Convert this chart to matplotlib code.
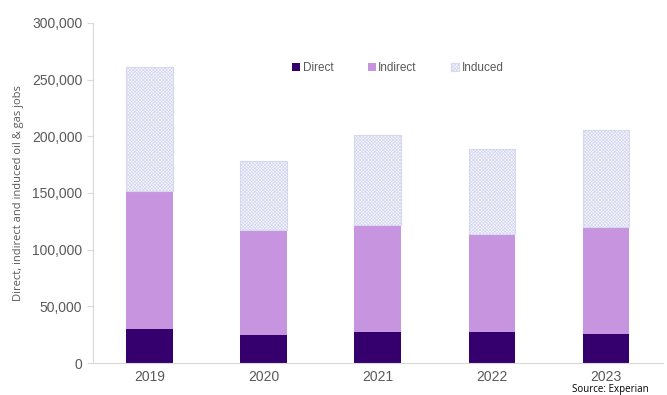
import matplotlib
matplotlib.use("Agg")
import matplotlib.pyplot as plt
from matplotlib.ticker import FuncFormatter

years = ["2019", "2020", "2021", "2022", "2023"]
direct = [30000, 25000, 27500, 27500, 25500]
indirect = [122000, 92000, 94500, 86000, 94500]
induced = [109000, 61500, 79000, 75500, 85500]

plt.rcParams["font.family"] = ["Liberation Sans", "DejaVu Sans"]
plt.rcParams["hatch.color"] = "#d6d9f0"
plt.rcParams["hatch.linewidth"] = 0.5

fig = plt.figure(figsize=(6.67, 3.95), dpi=100)
ax = fig.add_axes([0.139, 0.081, 0.855, 0.861])

x = range(len(years))
w = 0.41
base2 = direct
base3 = [d + i for d, i in zip(direct, indirect)]
ax.bar(x, direct, w, color="#35006e", label="Direct", zorder=2)
ax.bar(x, indirect, w, bottom=base2, color="#c794e0", label="Indirect", zorder=2)
ax.bar(x, induced, w, bottom=base3, facecolor="#f5f6fc", edgecolor="#d5d8ee",
       hatch="xxxxxxxxxx", linewidth=0.8, label="Induced", zorder=2)

ax.set_xlim(-0.5, 4.5)
ax.set_ylim(0, 300000)
ax.set_yticks(range(0, 300001, 50000))
ax.yaxis.set_major_formatter(FuncFormatter(lambda v, p: f"{int(v):,}"))
ax.set_xticks(list(x))
ax.set_xticklabels(years)

for s in ["top", "right"]:
    ax.spines[s].set_visible(False)
ax.spines["left"].set_color("#d9d9d9")
ax.spines["bottom"].set_color("#d9d9d9")
ax.tick_params(axis="y", colors="#d9d9d9", labelcolor="#595959", labelsize=10, length=4)
ax.tick_params(axis="x", length=0, labelcolor="#595959", labelsize=10, pad=5)

ax.set_ylabel("Direct, indirect and induced oil & gas jobs", color="#595959", fontsize=8,
              family=["Open Sans", "DejaVu Sans"], labelpad=6)

ax.legend(loc="center", bbox_to_anchor=(0.535, 0.867), ncol=3, frameon=False,
          fontsize=8.5, labelcolor="#595959", handlelength=0.7, handleheight=0.7,
          handletextpad=0.2, columnspacing=2.9)

# source note sits in the bottom-right corner under the last category
fig.text(0.858, 0.001, "Source: Experian", fontsize=7, color="#000000",
         family=["Open Sans", "DejaVu Sans"], va="bottom")

fig.savefig("out.png", dpi=100)
